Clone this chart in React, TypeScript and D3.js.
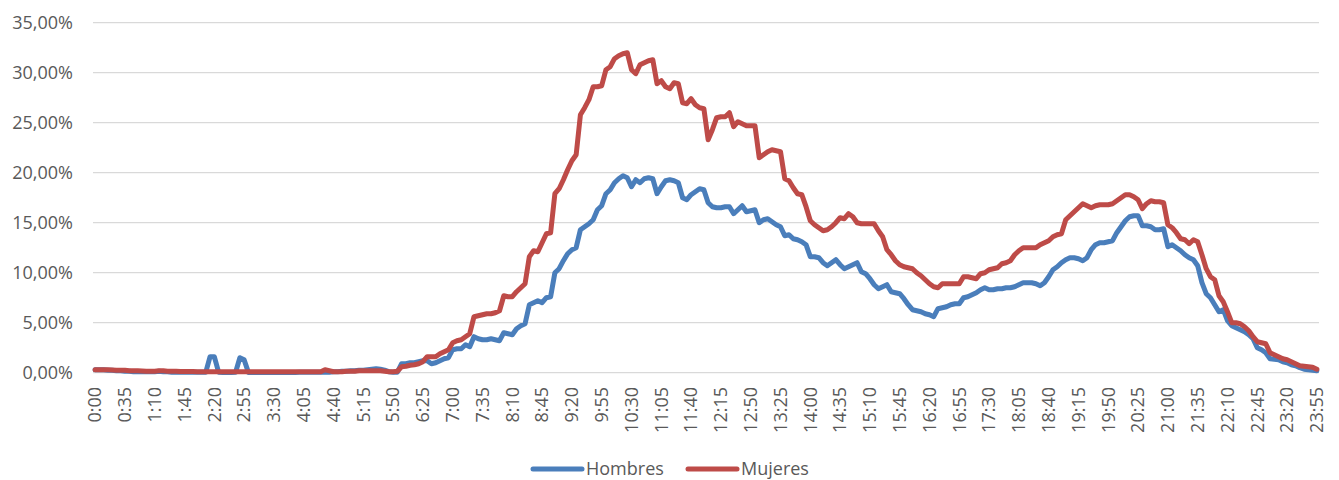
import React from "react";
import * as d3 from "d3";

// 5-minute categories 0:00 … 23:55
const times: string[] = d3.range(288).map((i) => `${Math.floor(i / 12)}:${String((i % 12) * 5).padStart(2, "0")}`);

// Hombres (% by 5-minute slot, one row per hour)
const hombres: number[] = [
  0.3,0.3,0.3,0.25,0.25,0.2,0.2,0.15,0.15,0.1,0.1,0.1,
  0.1,0.1,0.1,0.15,0.1,0.1,0.05,0.05,0.05,0.05,0.05,0.05,
  0.05,0.05,0.05,1.6,1.6,0.05,0.02,0.02,0.02,0.05,1.5,1.3,
  0.03,0.03,0.03,0.03,0.03,0.03,0.03,0.03,0.03,0.03,0.03,0.03,
  0.05,0.05,0.05,0.05,0.05,0.05,0.05,0.05,0.1,0.1,0.15,0.15,
  0.2,0.2,0.25,0.25,0.3,0.35,0.4,0.35,0.25,0.1,0.05,0.05,
  0.9,0.9,1.0,1.0,1.1,1.2,1.2,0.9,1.0,1.2,1.4,1.5,
  2.3,2.4,2.4,2.8,2.6,3.6,3.4,3.3,3.3,3.4,3.3,3.2,
  4.0,3.9,3.8,4.4,4.7,4.9,6.8,7.0,7.2,7.0,7.5,7.6,
  10.0,10.4,11.2,11.9,12.3,12.5,14.3,14.6,14.9,15.3,16.3,16.7,
  17.9,18.3,19.0,19.4,19.7,19.5,18.6,19.3,19.0,19.4,19.5,19.4,
  17.9,18.6,19.2,19.3,19.2,19.0,17.5,17.3,17.8,18.1,18.4,18.3,
  17.0,16.6,16.5,16.5,16.6,16.6,15.9,16.3,16.7,16.1,16.2,16.3,
  15.0,15.3,15.4,15.1,14.8,14.6,13.7,13.8,13.4,13.3,13.1,12.8,
  11.6,11.6,11.5,11.0,10.7,11.0,11.3,10.8,10.4,10.6,10.8,11.0,
  10.1,9.9,9.4,8.8,8.4,8.6,8.8,8.1,8.0,7.9,7.4,6.8,
  6.3,6.2,6.1,5.9,5.8,5.6,6.4,6.5,6.6,6.8,6.9,6.9,
  7.5,7.6,7.8,8.0,8.3,8.5,8.3,8.3,8.4,8.4,8.5,8.5,
  8.6,8.8,9.0,9.0,9.0,8.9,8.7,9.0,9.6,10.3,10.6,11.0,
  11.3,11.5,11.5,11.4,11.2,11.5,12.3,12.8,13.0,13.0,13.1,13.2,
  14.0,14.6,15.2,15.6,15.7,15.7,14.7,14.7,14.6,14.3,14.3,14.4,
  12.6,12.8,12.5,12.2,11.8,11.5,11.3,10.7,9.0,7.9,7.5,6.8,
  6.1,6.3,5.2,4.7,4.5,4.3,4.1,3.8,3.4,2.5,2.3,2.0,
  1.4,1.35,1.3,1.1,1.0,0.8,0.7,0.5,0.35,0.3,0.25,0.2,
];

// Mujeres
const mujeres: number[] = [
  0.3,0.3,0.3,0.3,0.28,0.25,0.25,0.25,0.2,0.2,0.2,0.18,
  0.15,0.15,0.15,0.2,0.2,0.15,0.15,0.15,0.12,0.12,0.12,0.12,
  0.1,0.1,0.1,0.1,0.1,0.1,0.1,0.1,0.1,0.1,0.1,0.1,
  0.1,0.1,0.1,0.1,0.1,0.1,0.1,0.1,0.1,0.1,0.1,0.1,
  0.1,0.1,0.1,0.1,0.1,0.1,0.3,0.2,0.1,0.1,0.1,0.15,
  0.15,0.15,0.2,0.2,0.2,0.2,0.2,0.2,0.15,0.1,0.1,0.15,
  0.6,0.65,0.75,0.8,0.9,1.1,1.6,1.6,1.6,1.9,2.1,2.3,
  3.0,3.2,3.3,3.6,3.9,5.6,5.7,5.8,5.9,5.9,6.0,6.2,
  7.7,7.6,7.6,8.1,8.5,8.9,11.6,12.2,12.1,13.0,13.9,14.0,
  17.9,18.4,19.3,20.3,21.2,21.8,25.8,26.5,27.3,28.6,28.6,28.7,
  30.3,30.6,31.4,31.7,31.9,32.0,30.3,29.9,30.8,31.0,31.2,31.3,
  28.9,29.2,28.6,28.4,29.0,28.9,27.0,26.9,27.4,26.8,26.5,26.4,
  23.3,24.3,25.5,25.6,25.6,26.0,24.6,25.1,24.9,24.7,24.7,24.7,
  21.5,21.8,22.1,22.3,22.2,22.1,19.4,19.2,18.5,17.9,17.8,16.6,
  15.2,14.8,14.5,14.2,14.3,14.6,15.0,15.5,15.4,15.9,15.6,15.0,
  14.9,14.9,14.9,14.9,14.2,13.6,12.3,11.8,11.2,10.8,10.6,10.5,
  10.4,10.0,9.7,9.3,8.9,8.6,8.5,8.9,8.9,8.9,8.9,8.9,
  9.6,9.6,9.5,9.4,9.9,10.0,10.3,10.4,10.5,10.9,11.0,11.2,
  11.8,12.2,12.5,12.5,12.5,12.5,12.8,13.0,13.2,13.6,13.8,13.9,
  15.3,15.7,16.1,16.5,16.9,16.7,16.5,16.7,16.8,16.8,16.8,16.9,
  17.2,17.5,17.8,17.8,17.6,17.3,16.4,16.9,17.2,17.1,17.1,17.0,
  14.8,14.5,14.0,13.4,13.3,12.9,13.3,13.1,11.8,10.4,9.6,9.3,
  7.7,7.1,6.1,5.0,5.0,4.9,4.6,4.2,3.6,3.1,3.0,2.9,
  2.0,1.8,1.6,1.4,1.3,1.1,0.9,0.7,0.65,0.6,0.55,0.35,
];

const yTicks: number[] = [0, 5, 10, 15, 20, 25, 30, 35];
const xTickLabels: string[] = times.filter((_, i) => i % 7 === 0);

const series = [
  { name: "Hombres", values: hombres, color: "#4A7EBB" },
  { name: "Mujeres", values: mujeres, color: "#BE4B48" },
];

const W = 1339;
const H = 480;
const FONT = "'Open Sans', 'DejaVu Sans', sans-serif";
const TXT = "#595959";

export default function App() {
  const x = d3.scalePoint<string>().domain(times).range([93, 1319]).padding(0.5);
  const y = d3.scaleLinear().domain([0, 35]).range([372.7, 22.7]);
  const fmt = (v: number) => v.toFixed(2).replace(".", ",") + "%";

  const line = (vals: number[]) =>
    d3
      .line<number>()
      .x((_, i) => x(times[i]) as number)
      .y((d) => y(d))(vals) as string;

  return (
    <svg
      width={W}
      height={H}
      style={{ position: "absolute", left: 0, top: 0, background: "#fff" }}
      fontFamily={FONT}
    >
      {yTicks.map((t) => (
        <g key={t}>
          <line x1={93} x2={1319} y1={y(t)} y2={y(t)} stroke="#D9D9D9" strokeWidth={1.3} />
          <text x={73} y={y(t)} dy="0.35em" textAnchor="end" fontSize={18} fill={TXT}>
            {fmt(t)}
          </text>
        </g>
      ))}
      {xTickLabels.map((lab) => {
        const px = x(lab) as number;
        return (
          <text
            key={lab}
            transform={`translate(${px},387) rotate(-90)`}
            textAnchor="end"
            dy="0.35em"
            fontSize={18}
            fill={TXT}
          >
            {lab}
          </text>
        );
      })}
      {series.map((s) => (
        <path
          key={s.name}
          d={line(s.values)}
          fill="none"
          stroke={s.color}
          strokeWidth={5}
          strokeLinejoin="round"
          strokeLinecap="round"
        />
      ))}
      {series.map((s, k) => {
        const x0 = k === 0 ? 533 : 688;
        return (
          <g key={"lg" + s.name}>
            <line x1={x0} x2={x0 + 49} y1={469} y2={469} stroke={s.color} strokeWidth={5} strokeLinecap="round" />
            <text x={x0 + 53} y={475} fontSize={18} fill={TXT}>
              {s.name}
            </text>
          </g>
        );
      })}
    </svg>
  );
}
